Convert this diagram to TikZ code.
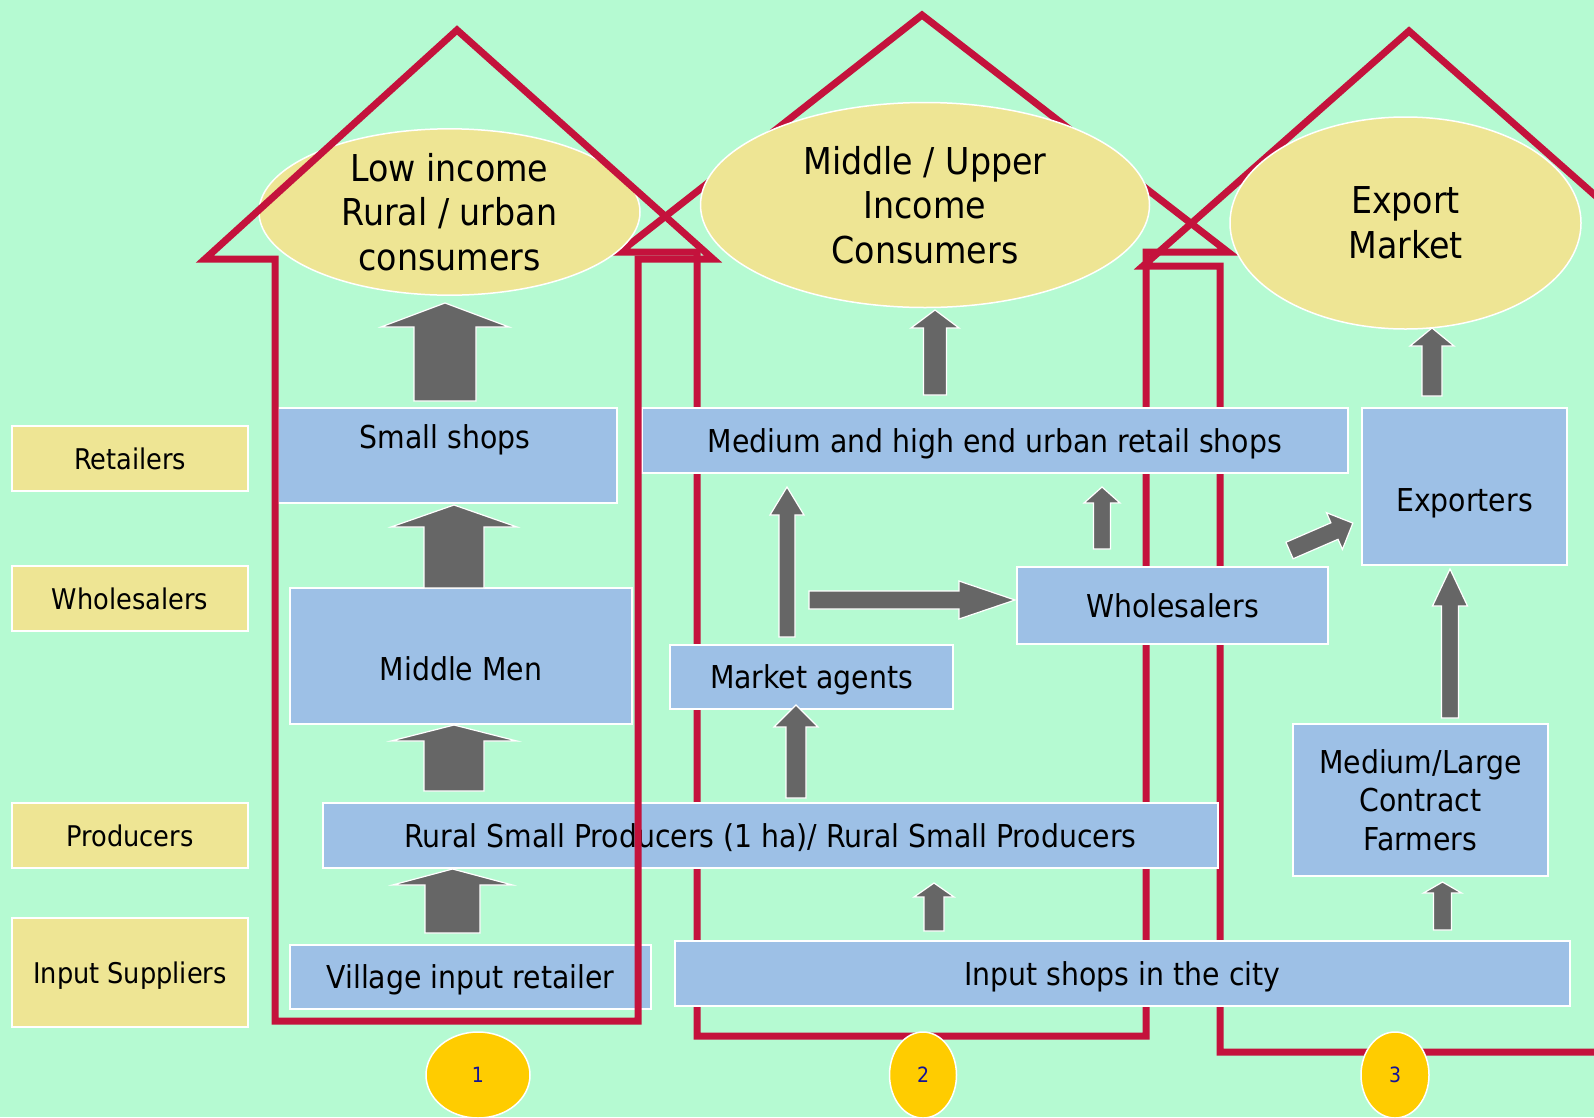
\documentclass[tikz,border=0pt]{standalone}
\usepackage{fontspec}
\setmainfont{DejaVu Sans Condensed}
\usetikzlibrary{shapes.geometric}

\definecolor{bgmint}{RGB}{181,250,210}
\definecolor{boxblue}{RGB}{157,192,230}
\definecolor{khaki}{RGB}{238,229,148}
\definecolor{roofred}{RGB}{196,18,60}
\definecolor{arrowgray}{RGB}{102,102,102}
\definecolor{numgold}{RGB}{255,204,0}
\definecolor{numblue}{RGB}{20,20,150}

% block arrow: tail x, tail y, angle, length, head length, head half-width, shaft half-width
\newcommand{\blockarrow}[7]{%
  \begin{scope}[shift={(#1,#2)},rotate=#3]
    \filldraw[garrow] (0,-#7) -- (#4-#5,-#7) -- (#4-#5,-#6) -- (#4,0)
      -- (#4-#5,#6) -- (#4-#5,#7) -- (0,#7) -- cycle;
  \end{scope}}

\begin{document}
\begin{tikzpicture}[x=1pt,y=-1pt,
  boxtext/.style={text=black, align=center, inner sep=0pt,
    font=\fontsize{31.5}{38}\selectfont, text height=23pt, text depth=0pt},
  boxfill/.style={draw=white, line width=1.5pt, fill=boxblue},
  box/.style={boxtext, boxfill},
  multibox/.style={boxfill, text=black, align=center, inner sep=0pt,
    font=\fontsize{31.5}{38.5}\selectfont},
  lab/.style={draw=white, line width=1.5pt, fill=khaki, inner sep=0pt,
    text=black, font=\fontsize{28.5}{34}\selectfont, text height=21pt, text depth=0pt},
  consumer/.style={ellipse, draw=white, line width=1.5pt, fill=khaki, inner sep=0pt,
    text=black, align=center, font=\fontsize{37}{44.5}\selectfont},
  house/.style={draw=roofred, line width=7pt, line join=miter},
  garrow/.style={fill=arrowgray, draw=white, line width=1.2pt, line join=miter},
  badge/.style={ellipse, fill=numgold, draw=white, line width=1.5pt, inner sep=0pt,
    text=numblue, font=\fontsize{21}{25}\selectfont, text height=15.5pt, text depth=0pt}
]
\useasboundingbox (0,0) rectangle (1594,1117);
\fill[bgmint] (0,0) rectangle (1594,1117);

\begin{scope}
\clip (0,0) rectangle (1594,1117);

% outlines of the middle and export channels
\draw[house] (620,252) -- (922,15) -- (1228,252) -- (1146,252) -- (1146,1036)
  -- (697,1036) -- (697,252) -- cycle;
\draw[house] (1143,266) -- (1409,31) -- (1675,266) -- (1598,266) -- (1598,1052)
  -- (1220,1052) -- (1220,266) -- cycle;

% consumer markets
\node[consumer, minimum width=381pt, minimum height=162pt] (lowinc) at (449.5,212)
  {Low income\\Rural / urban\\consumers};
\node[consumer, minimum width=449pt, minimum height=205pt] (midinc) at (925,205)
  {Middle / Upper\\Income\\Consumers};
\node[consumer, minimum width=351pt, minimum height=212pt] (export) at (1405.5,223)
  {Export\\Market};

% level labels
\node[lab, minimum width=236pt, minimum height=65pt] (lretail) at (130,458.5) {Retailers};
\node[lab, minimum width=236pt, minimum height=65pt] (lwhole) at (130,598.5) {Wholesalers};
\node[lab, minimum width=236pt, minimum height=65pt] (lprod) at (130,835.5) {Producers};
\node[lab, minimum width=236pt, minimum height=109pt] (linput) at (130,972.5) {Input Suppliers};

% actors
\node[box, minimum width=339pt, minimum height=95pt,
  label={[boxtext, xshift=-2.5pt, yshift=18.5pt]center:Small shops}] (smallshops) at (447.5,455.5) {};
\node[box, minimum width=342pt, minimum height=136pt,
  label={[boxtext, yshift=-13pt]center:Middle Men}] (middlemen) at (461,656) {};
\node[box, minimum width=895pt, minimum height=65pt] (producers) at (770.5,835.5)
  {Rural Small Producers (1 ha)/ Rural Small Producers};
\node[box, minimum width=361pt, minimum height=64pt] (village) at (470.5,977)
  {Village input retailer};
\node[box, minimum width=706pt, minimum height=65pt] (retail) at (995,440.5)
  {Medium and high end urban retail shops};
\node[box, minimum width=283pt, minimum height=64pt] (agents) at (811.5,677)
  {Market agents};
\node[box, minimum width=311pt, minimum height=77pt] (wholesale) at (1172.5,605.5)
  {Wholesalers};
\node[box, minimum width=205pt, minimum height=157pt,
  label={[boxtext, yshift=-13pt]center:Exporters}] (exporters) at (1464.5,486.5) {};
\node[multibox, minimum width=255pt, minimum height=152pt] (farmers) at (1420.5,800)
  {Medium/Large\\Contract\\Farmers};
\node[box, minimum width=895pt, minimum height=65pt] (cityshops) at (1122.5,973.5)
  {Input shops in the city};

% flows
\blockarrow{445}{401}{90}{98}{24}{64}{31}
\blockarrow{454}{588}{90}{83}{22}{63}{30}
\blockarrow{454}{791}{90}{66}{16}{63}{30}
\blockarrow{452.5}{933}{90}{64}{16}{60}{27.5}
\blockarrow{935}{395}{90}{85}{18}{24}{11.5}
\blockarrow{787}{637}{90}{150}{28}{17}{8}
\blockarrow{809}{600}{0}{206}{56}{19}{9}
\blockarrow{1102}{549}{90}{62}{16}{18}{8.5}
\blockarrow{1289.5}{550.5}{23.4}{69}{20}{20}{9}
\blockarrow{1450}{718}{90}{149}{37}{17.5}{8.5}
\blockarrow{1432}{396}{90}{68}{18}{22}{10}
\blockarrow{934}{931}{90}{48}{14}{20}{10}
\blockarrow{1442.5}{930}{90}{48}{11}{19}{9}
\blockarrow{796}{798}{90}{93}{22}{22}{10}

% outline of the local channel
\draw[house] (205,259) -- (457,30) -- (713,259) -- (638,259) -- (638,1021)
  -- (275,1021) -- (275,259) -- cycle;

% channel numbers
\node[badge, minimum width=104pt, minimum height=86pt] (n1) at (478,1075) {1};
\node[badge, minimum width=67pt, minimum height=86pt] (n2) at (923,1075) {2};
\node[badge, minimum width=68pt, minimum height=86pt] (n3) at (1395,1075) {3};
\end{scope}
\end{tikzpicture}
\end{document}
